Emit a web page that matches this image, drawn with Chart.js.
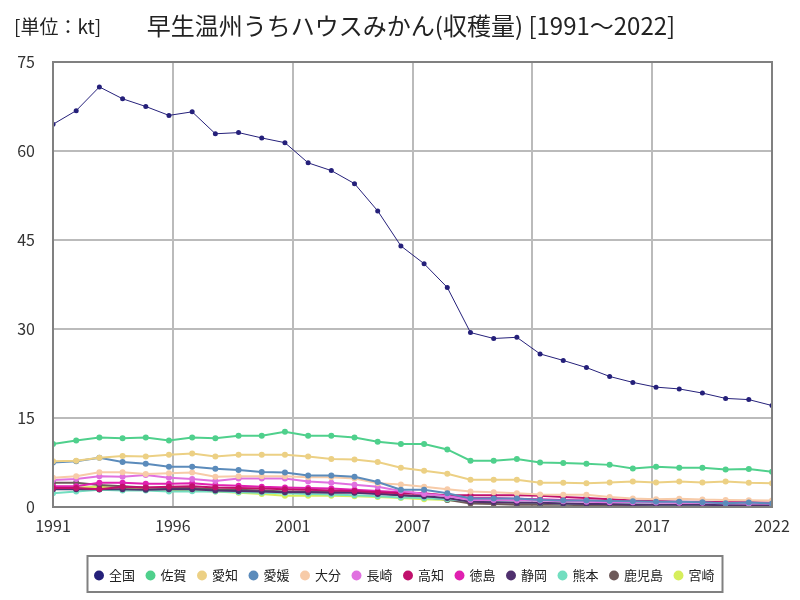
<!DOCTYPE html>
<html>
<head>
<meta charset="utf-8">
<script src="https://cdn.jsdelivr.net/npm/chart.js@4"></script>
<style>
  body { margin: 0; background: #fff; }
  #wrap { width: 800px; height: 600px; }
</style>
</head>
<body>
<div id="wrap"><canvas id="harvestChart" width="800" height="600"></canvas></div>
<script>
const years = [];
for (let y = 1991; y <= 2022; y++) years.push(y);

const regionNames = ['全国', '佐賀', '愛知', '愛媛', '大分', '長崎', '高知', '徳島', '静岡', '熊本', '鹿児島', '宮崎'];
const regionColors = ['#25207a', '#4fd08c', '#ecd084', '#5b8bbb', '#f7cba8', '#e070e0', '#c0106c', '#e020b0', '#50306e', '#72dec0', '#6e5a5a', '#d6ee5c'];

const zenkoku = [64.5, 66.8, 70.8, 68.8, 67.5, 66.0, 66.6, 62.9, 63.1, 62.2, 61.4, 58.0, 56.7, 54.5, 49.9, 44.0, 41.0, 37.0, 29.4, 28.4, 28.6, 25.8, 24.7, 23.5, 22.0, 21.0, 20.2, 19.9, 19.2, 18.3, 18.1, 17.1];
const saga = [10.6, 11.2, 11.7, 11.6, 11.7, 11.2, 11.7, 11.6, 12.0, 12.0, 12.7, 12.0, 12.0, 11.7, 11.0, 10.6, 10.6, 9.7, 7.8, 7.8, 8.1, 7.5, 7.4, 7.3, 7.1, 6.5, 6.8, 6.6, 6.6, 6.3, 6.4, 5.95];
const aichi = [7.7, 7.8, 8.3, 8.6, 8.5, 8.8, 9.0, 8.5, 8.8, 8.8, 8.8, 8.5, 8.1, 8.0, 7.6, 6.6, 6.1, 5.6, 4.6, 4.6, 4.6, 4.1, 4.1, 4.0, 4.15, 4.3, 4.15, 4.3, 4.15, 4.3, 4.1, 4.0];
const ehime = [7.5, 7.7, 8.3, 7.6, 7.3, 6.8, 6.8, 6.45, 6.25, 5.9, 5.8, 5.3, 5.3, 5.1, 4.2, 2.9, 2.9, 2.3, 1.45, 1.45, 1.45, 1.2, 1.1, 1.1, 1.0, 0.95, 0.9, 0.9, 0.8, 0.65, 0.75, 0.6];
const oita = [4.95, 5.2, 5.85, 5.85, 5.55, 5.7, 5.8, 5.1, 5.2, 5.2, 5.2, 5.0, 5.0, 4.8, 4.0, 3.8, 3.4, 3.0, 2.6, 2.5, 2.3, 2.1, 2.05, 2.05, 1.7, 1.45, 1.3, 1.4, 1.25, 1.2, 1.15, 1.1];
const nagasaki = [4.55, 4.7, 5.2, 5.1, 5.4, 4.95, 4.7, 4.4, 4.8, 4.8, 4.8, 4.3, 4.1, 3.75, 3.4, 2.7, 2.2, 1.85, 1.2, 1.2, 1.1, 1.1, 0.95, 0.9, 0.8, 0.8, 0.75, 0.7, 0.7, 0.65, 0.6, 0.6];
const kochi = [3.2, 3.2, 3.0, 3.4, 3.3, 3.4, 3.5, 3.3, 3.2, 3.1, 3.0, 2.9, 2.8, 2.7, 2.5, 2.3, 2.2, 2.0, 2.0, 2.0, 2.0, 1.9, 1.7, 1.5, 1.3, 1.1, 1.0, 0.9, 0.9, 0.8, 0.8, 0.7];
const tokushima = [3.5, 3.5, 4.1, 4.1, 3.9, 3.9, 4.0, 3.7, 3.6, 3.4, 3.3, 3.2, 3.1, 2.9, 2.7, 2.5, 2.3, 1.9, 1.5, 1.5, 1.4, 1.3, 1.2, 1.1, 1.0, 0.9, 0.9, 0.8, 0.8, 0.7, 0.7, 0.6];
const shizuoka = [3.0, 3.0, 3.0, 3.0, 2.9, 3.0, 3.0, 2.8, 2.7, 2.6, 2.5, 2.5, 2.4, 2.4, 2.2, 2.0, 1.8, 1.5, 0.9, 0.8, 0.7, 0.7, 0.6, 0.5, 0.5, 0.4, 0.4, 0.4, 0.4, 0.3, 0.3, 0.3];
const kumamoto = [2.3, 2.6, 2.9, 2.8, 2.8, 2.6, 2.65, 2.6, 2.5, 2.4, 2.3, 2.2, 2.1, 2.0, 1.8, 1.6, 1.5, 1.3, 1.0, 0.9, 0.8, 0.7, 0.6, 0.6, 0.5, 0.5, 0.4, 0.4, 0.4, 0.4, 0.3, 0.3];
const kagoshima = [4.1, 4.1, 3.7, 3.5, 3.3, 3.2, 3.2, 3.0, 2.9, 2.8, 2.6, 2.6, 2.6, 2.5, 2.3, 2.0, 1.7, 1.2, 0.6, 0.5, 0.4, 0.4, 0.4, 0.3, 0.3, 0.3, 0.3, 0.3, 0.3, 0.2, 0.2, 0.2];
const miyazaki = [3.3, 3.3, 3.4, 3.2, 3.0, 2.9, 2.8, 2.6, 2.4, 2.2, 1.9, 1.9, 1.9, 1.8, 1.7, 1.5, 1.3, 1.2, 0.9, 0.8, 0.7, 0.6, 0.5, 0.5, 0.4, 0.4, 0.3, 0.3, 0.3, 0.3, 0.2, 0.2];

const seriesValues = [zenkoku, saga, aichi, ehime, oita, nagasaki, kochi, tokushima, shizuoka, kumamoto, kagoshima, miyazaki];

const yTicks = [0, 15, 30, 45, 60, 75];
const FONT = '"Noto Sans CJK JP", "Noto Sans", sans-serif';

const datasets = regionNames.map((name, i) => ({
    label: name,
    data: years.map((yr, j) => ({ x: yr, y: seriesValues[i][j] })),
    borderColor: regionColors[i],
    backgroundColor: regionColors[i],
    borderWidth: i === 0 ? 1 : 2,
    pointRadius: i === 0 ? 2.5 : 3,
    pointBorderWidth: 0,
    tension: 0
}));

// titles, plot border and legend frame
const decorations = {
    id: 'decorations',
    afterLayout(chart) {
        // nudge the legend to sit under the plot like the original
        const lg = chart.legend;
        if (lg) { lg.left += 19; lg.right += 19; }
    },
    afterDraw(chart) {
        const ctx = chart.ctx;
        const a = chart.chartArea;
        ctx.save();
        ctx.strokeStyle = '#808080';
        ctx.lineWidth = 2;
        ctx.strokeRect(a.left, a.top, a.right - a.left, a.bottom - a.top);

        ctx.fillStyle = '#222';
        ctx.textBaseline = 'middle';
        ctx.font = '19px ' + FONT;
        ctx.textAlign = 'left';
        ctx.fillText('[単位：kt]', 14, 27);
        ctx.font = '24px ' + FONT;
        ctx.textAlign = 'center';
        ctx.fillText('早生温州うちハウスみかん(収穫量) [1991～2022]', 411, 26);

        const lg = chart.legend;
        if (lg && lg.legendHitBoxes.length) {
            const boxes = lg.legendHitBoxes;
            const last = boxes[boxes.length - 1];
            const l = boxes[0].left - 8;
            const r = last.left + last.width + 8;
            ctx.lineWidth = 2;
            ctx.strokeStyle = '#808080';
            ctx.strokeRect(l, 556, r - l, 36);
        }
        ctx.restore();
    }
};

const ctx = document.getElementById('harvestChart').getContext('2d');
new Chart(ctx, {
    type: 'line',
    data: { datasets },
    options: {
        responsive: false,
        animation: false,
        layout: { padding: { top: 62, right: 28, left: 0, bottom: 8 } },
        plugins: {
            legend: {
                position: 'bottom',
                labels: {
                    usePointStyle: true,
                    pointStyle: 'circle',
                    boxWidth: 7,
                    boxHeight: 7,
                    padding: 12,
                    color: '#222',
                    font: { family: FONT, size: 13 }
                }
            },
            tooltip: { enabled: false }
        },
        scales: {
            x: {
                type: 'linear',
                min: 1991,
                max: 2022,
                afterBuildTicks: axis => {
                    axis.ticks = [0, 1, 2, 3, 4, 5, 6].map(i => ({ value: 1991 + i * 31 / 6 }));
                },
                afterFit: axis => { axis.height = 50; },
                ticks: {
                    callback: v => Math.round(v),
                    color: '#333',
                    font: { family: FONT, size: 16 },
                    maxRotation: 0,
                    padding: 9
                },
                grid: { color: '#bbbbbb', lineWidth: 2, drawTicks: false },
                border: { display: false }
            },
            y: {
                min: 0,
                max: 75,
                afterBuildTicks: axis => {
                    axis.ticks = yTicks.map(v => ({ value: v }));
                },
                afterFit: axis => { axis.width = 53; },
                ticks: {
                    color: '#333',
                    font: { family: FONT, size: 16 },
                    padding: 18
                },
                grid: { color: '#bbbbbb', lineWidth: 2, drawTicks: false },
                border: { display: false }
            }
        }
    },
    plugins: [decorations]
});
</script>
</body>
</html>
